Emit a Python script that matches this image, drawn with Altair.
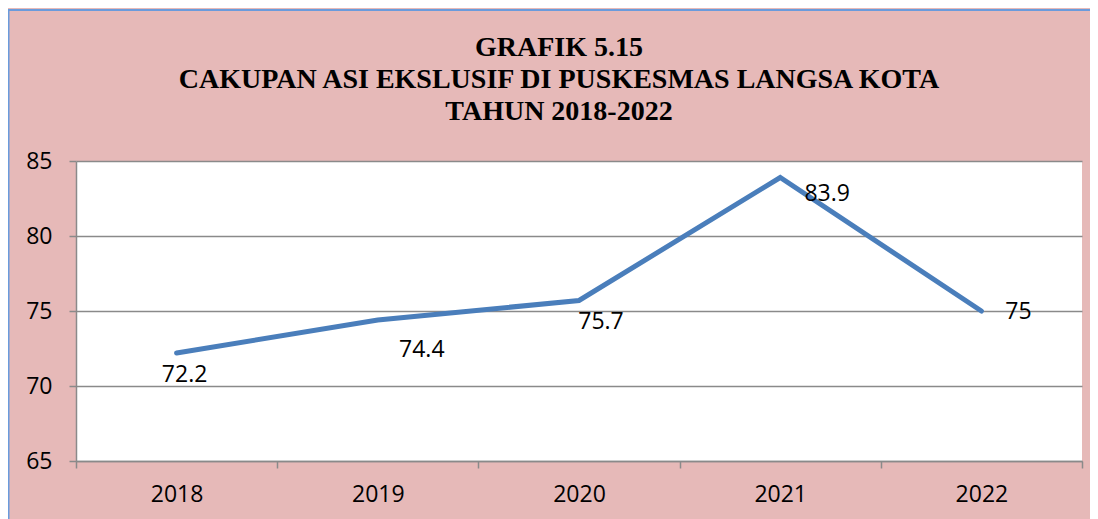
import altair as alt
import pandas as pd

years = ["2018", "2019", "2020", "2021", "2022"]
values = [72.2, 74.4, 75.7, 83.9, 75]
labels = ["72.2", "74.4", "75.7", "83.9", "75"]
y_ticks = [65, 70, 75, 80, 85]
title_lines = [
    "GRAFIK 5.15",
    "CAKUPAN ASI EKSLUSIF DI PUSKESMAS LANGSA KOTA",
    "TAHUN 2018-2022",
]

df = pd.DataFrame({"year": years, "value": values, "label": labels})

GRAY = "#8a8a8a"
BLUE = "#4A7EBB"
FONT = "Open Sans"

x_enc = alt.X(
    "year:N",
    sort=years,
    scale=alt.Scale(type="band", paddingInner=0, paddingOuter=0),
    axis=alt.Axis(
        title=None,
        labelAngle=0,
        tickBand="extent",
        tickSize=7,
        labelPadding=15,
        grid=False,
    ),
)
y_enc = alt.Y(
    "value:Q",
    scale=alt.Scale(domain=[65, 85], nice=False, zero=False),
    axis=alt.Axis(
        title=None,
        values=y_ticks,
        tickSize=7,
        labelPadding=17,
        grid=True,
    ),
)

base = alt.Chart(df)

line = base.mark_line(color=BLUE, strokeWidth=5, strokeCap="round", strokeJoin="miter").encode(
    x=x_enc, y=y_enc
)

# label offsets (style), keyed by year
label_offsets = {
    "2018": (8, 22),
    "2019": (44, 30),
    "2020": (22, 21),
    "2021": (47, 16),
    "2022": (37, 1),
}

text_layers = []
for yr in years:
    dx, dy = label_offsets[yr]
    text_layers.append(
        base.transform_filter(alt.datum.year == yr)
        .mark_text(font=FONT, fontSize=23, color="black", align="center", baseline="middle", dx=dx, dy=dy)
        .encode(x=alt.X("year:N", sort=years), y="value:Q", text="label:N")
    )

frame_df = pd.DataFrame({"k": [0]})
title_text = alt.Chart(frame_df).mark_text(
    font="Liberation Serif",
    fontSize=28,
    fontWeight="bold",
    lineHeight=32,
    color="black",
    align="center",
    baseline="alphabetic",
).encode(x=alt.value(483), y=alt.value(-105), text=alt.value(title_lines))

border_left = alt.Chart(frame_df).mark_rule(color="#6A9BDC", strokeWidth=2).encode(
    x=alt.value(-67.5), y=alt.value(-151), y2=alt.value(360)
)
border_top = alt.Chart(frame_df).mark_rule(color="#6A9BDC", strokeWidth=2).encode(
    x=alt.value(-68.5), x2=alt.value(1030), y=alt.value(-151)
)

chart = (
    alt.layer(line, *text_layers, title_text, border_left, border_top)
    .properties(
        width=1006,
        height=300,
        padding={"left": 68, "top": 153, "right": 8, "bottom": 58},
        autosize=alt.AutoSizeParams(type="none"),
        background="#E6B9B8",
    )
    .configure_view(stroke=None, fill="white")
    .configure_axis(
        domainColor=GRAY,
        domainWidth=1.5,
        tickColor=GRAY,
        tickWidth=1.5,
        gridColor=GRAY,
        gridWidth=1.5,
        labelFont=FONT,
        labelFontSize=23,
        labelColor="black",
    )
)

chart.save("out.html", embed_options={"renderer": "svg", "actions": False})
